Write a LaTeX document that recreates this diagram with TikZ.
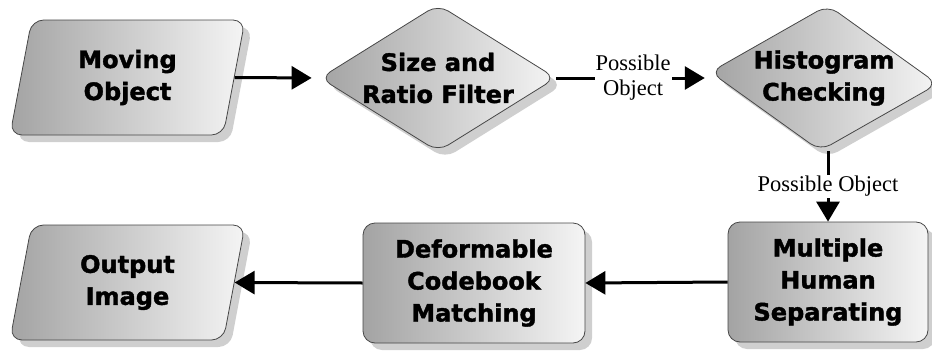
\documentclass[tikz,border=0pt]{standalone}
\usepackage{fontspec}
\setmainfont{Liberation Serif}
\newfontfamily\boxfont{DejaVu Sans}[BoldFeatures={FakeBold=1.6}]
\usetikzlibrary{arrows.meta,shapes.geometric,shadows}

\begin{document}
\begin{tikzpicture}[x=1pt,y=-1pt,
  stage/.style={draw=black!72, line width=0.8pt,
    left color=black!36, right color=black!4,
    rounded corners=12pt, inner sep=0pt,
    general shadow={shadow xshift=7pt, shadow yshift=-7pt, fill=black!19}},
  iobox/.style={stage, trapezium, trapezium left angle=68.6,
    trapezium right angle=111.4, trapezium stretches body,
    minimum width=235pt, minimum height=115pt},
  decide/.style={stage, diamond},
  procbox/.style={stage, rectangle, minimum height=120pt},
  boxtext/.style={font=\boxfont\bfseries\fontsize{24}{32}\selectfont, align=center},
  flow/.style={line width=3pt, -{Triangle[length=20pt,width=23pt]}},
  flowlabel/.style={font=\fontsize{22.5}{25}\selectfont, align=center,
    fill=white, inner sep=1pt},
]
\useasboundingbox (0,0) rectangle (932,351);

% top row
\node[iobox, boxtext] (mo) at (127.5,77.5) {Moving\\Object};
\node[decide, minimum width=236pt, minimum height=147pt] (sz) at (438,78) {};
\node[boxtext] (szt) at (sz.center) {Size and\\Ratio Filter};
\node[decide, minimum width=228pt, minimum height=146pt, rotate=-3] (hc) at (824,78) {};
\node[boxtext] (hct) at (hc.center) {Histogram\\Checking};

% bottom row
\node[procbox, boxtext, minimum width=200pt] (mh) at (828,282) {Multiple\\Human\\Separating};
\node[procbox, boxtext, minimum width=222pt] (df) at (474,283) {Deformable\\Codebook\\Matching};
\node[iobox, boxtext] (oi) at (127.5,282.5) {Output\\Image};

% connectors
\draw[flow, shorten >=8pt] (mo.right side) -- (sz.west);
\draw[flow, shorten >=5pt] (sz.east) -- node[flowlabel] {Possible\\Object} (sz.east -| hc.west);
\draw[flow] (hc.south -| mh.north) -- node[flowlabel] {Possible Object} (mh.north);
\draw[flow] (mh.west) -- (df.east);
\draw[flow] (df.west) -- (oi.right side);
\end{tikzpicture}
\end{document}
